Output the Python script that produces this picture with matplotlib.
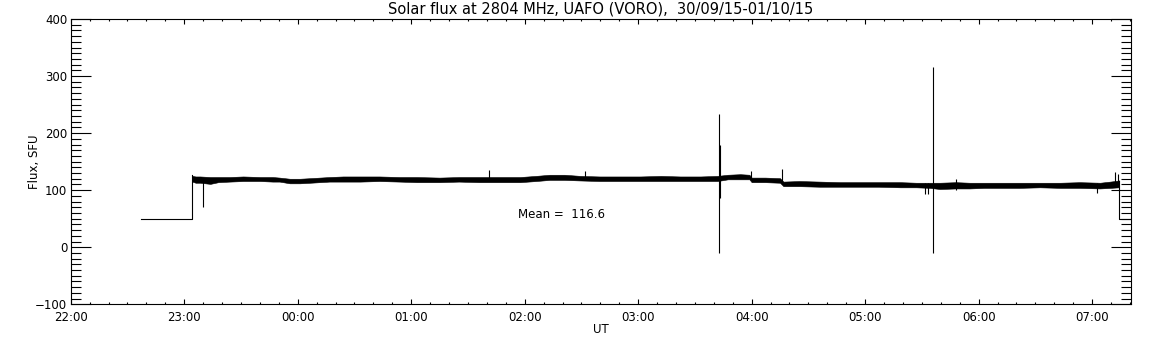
import matplotlib
matplotlib.use("Agg")
import matplotlib.pyplot as plt
from matplotlib.ticker import MultipleLocator, FixedLocator

# ---- data (time in hours after 22:00 UT) ----
hour_labels = ["22:00", "23:00", "00:00", "01:00", "02:00", "03:00",
               "04:00", "05:00", "06:00", "07:00"]

# fill-value segments (flux = 50 before/after valid data)
pre_t = [0.62, 1.072, 1.072]
pre_v = [50, 50, 126]
post_t = [9.239, 9.239, 9.40]
post_v = [116, 50, 50]

# noisy band: lower / upper envelope
band_t = [1.072, 1.10, 1.14, 1.23, 1.30, 1.40, 1.52, 1.67, 1.78, 1.84, 1.93,
          2.02, 2.11, 2.28, 2.40, 2.55, 2.72, 2.90, 3.05, 3.25, 3.42, 3.60,
          3.78, 3.96, 4.10, 4.22, 4.35, 4.49, 4.66, 4.84, 5.02, 5.20, 5.37,
          5.55, 5.70, 5.79, 5.90, 5.98, 6.00, 6.12, 6.25, 6.28, 6.42, 6.60,
          6.78, 6.95, 7.12, 7.31, 7.45, 7.57, 7.66, 7.80, 7.92, 8.05, 8.19,
          8.36, 8.54, 8.72, 8.89, 9.07, 9.16, 9.239]
band_lo = [115, 113, 113, 111, 114, 115, 116, 116, 115, 115, 112,
           112, 113, 115, 115, 115, 116, 115, 114, 114, 115, 114,
           114, 114, 116, 118, 118, 117, 116, 116, 116, 116, 116,
           116, 116, 119, 119, 119, 114, 114, 113, 107, 107, 106,
           106, 106, 106, 105, 105, 104, 102, 103, 103, 104, 104,
           104, 105, 104, 104, 103, 104, 105]
band_hi = [125, 124, 124, 123, 123, 123, 124, 123, 123, 122, 120,
           120, 121, 123, 124, 124, 124, 123, 123, 122, 123, 123,
           123, 123, 125, 127, 127, 125, 124, 124, 124, 125, 124,
           124, 125, 127, 128, 127, 122, 122, 121, 115, 116, 115,
           114, 114, 114, 114, 113, 113, 113, 114, 113, 113, 113,
           113, 113, 113, 114, 113, 115, 117]

# individual spikes: time, low, high
spike_t = [1.166, 3.686, 4.53, 5.715, 5.723, 5.99, 6.264, 7.53, 7.55,
           7.60, 7.80, 9.04, 9.20, 9.225]
spike_lo = [71, 118, 118, -10, 86, 117, 110, 93, 93,
            -10, 100, 95, 108, 108]
spike_hi = [120, 135, 134, 234, 179, 133, 137, 112, 112,
            316, 120, 112, 132, 128]

mean_value = 116.6
title = "Solar flux at 2804 MHz, UAFO (VORO),  30/09/15-01/10/15"

# ---- figure ----
plt.rcParams['font.family'] = ['DejaVu Sans']
fig = plt.figure(figsize=(11.52, 3.45), dpi=100)
ax = fig.add_axes([0.0614, 0.118, 0.9206, 0.827])

lw = 0.8
ax.plot(pre_t, pre_v, color='black', lw=lw)
ax.plot(post_t, post_v, color='black', lw=lw)
ax.fill_between(band_t, band_lo, band_hi, facecolor='black', lw=0.4,
                edgecolor='black')
ax.vlines(spike_t, spike_lo, spike_hi, color='black', lw=lw)

ax.set_xlim(0, 9.345)
ax.set_ylim(-100, 400)

ax.xaxis.set_major_locator(FixedLocator(list(range(len(hour_labels)))))
ax.set_xticklabels(hour_labels)
ax.xaxis.set_minor_locator(MultipleLocator(1 / 6))
ax.yaxis.set_major_locator(MultipleLocator(100))
ax.yaxis.set_minor_locator(MultipleLocator(10))

ax.tick_params(which='both', direction='in', top=True, right=True,
               width=0.8, labelsize=8.5, color='black')
ax.tick_params(axis='x', which='major', length=3.6, pad=5)
ax.tick_params(axis='x', which='minor', length=1.6)
ax.tick_params(axis='y', which='major', length=14.4, pad=2.5)
ax.tick_params(axis='y', which='minor', length=7.2)
for s in ax.spines.values():
    s.set_linewidth(0.8)

ax.text(0.5, 1.035, title, transform=ax.transAxes, ha='center', va='center',
        fontsize=10.5)
ax.set_xlabel("UT", fontsize=8.5)
ax.xaxis.label.set_va('center')
ax.xaxis.set_label_coords(0.5, -0.09)
ax.set_ylabel("Flux, SFU", fontsize=8.5)
ax.yaxis.label.set_va('center')
ax.yaxis.set_label_coords(-0.0337, 0.5)

ax.text(3.94, 56.6, "Mean =  %.1f" % mean_value, ha='left', va='center',
        fontsize=8.5)

fig.savefig("out.png", dpi=100)
